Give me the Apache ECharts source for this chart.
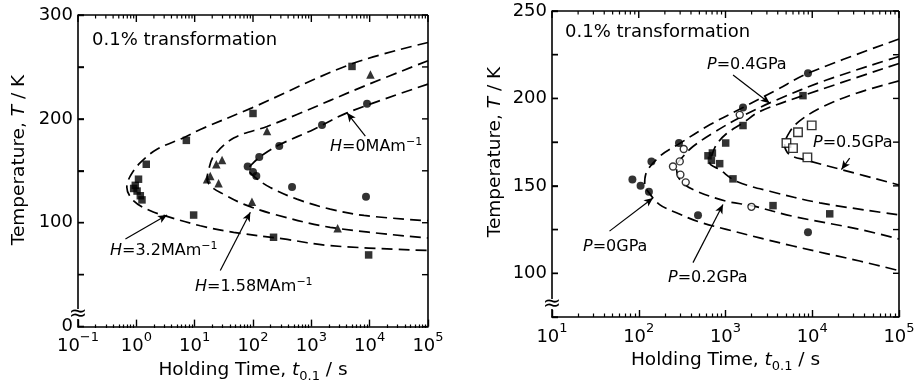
<!DOCTYPE html>
<html>
<head>
<meta charset="utf-8">
<script src="https://cdn.jsdelivr.net/npm/echarts@6/dist/echarts.min.js"></script>
<style>
  html, body { margin: 0; padding: 0; background: #fff; }
  #chart { width: 919px; height: 388px; }
</style>
</head>
<body>
<div id="chart"></div>
<script>
// ---- left panel: magnetic field H (t in s, T in K) ----
const leftDecades = [0.1, 1, 10, 100, 1000, 10000, 100000];
const leftYLabels = [0, 100, 200, 300];

const h32Points = [[4980, 250.5], [100, 205.2], [7.2, 179.3], [1.48, 156.3], [1.09, 141.9], [0.96, 136],
  [0.9, 133], [1.03, 130.5], [1.17, 126], [1.25, 122], [9.6, 107.4], [225, 86], [9600, 69]];
const h158Points = [[10300, 242.6], [174, 188.2], [29.5, 160.4], [23.5, 156.3], [18.5, 145.1], [16.3, 141.9],
  [25.7, 138.1], [96, 120.1], [2820, 94.6]];
const h0Points = [[9020, 214.5], [1525, 194], [282, 173.8], [128, 163.3], [81, 154.1], [100, 148.9],
  [114, 145.1], [467, 134.5], [8650, 124.9]];

const h32Curve = [[100000, 273.5], [4850, 252.8], [96, 210.6], [12.5, 189.8], [6.46, 181.9], [2.26, 170.7],
  [1.17, 157.9], [0.79, 145.1], [0.687, 134.2], [0.9, 121.1], [1.74, 111.5], [3.36, 106.1], [12.5, 97.1],
  [46.6, 90.8], [335, 84.4], [2110, 77.9], [100000, 73.3]];
const h158Curve = [[100000, 256], [7870, 231.3], [568, 204.2], [174, 192.7], [46.6, 181.5], [21.2, 164.2],
  [17.3, 150.5], [16.3, 141.9], [19.8, 134.2], [31.3, 127.5], [69, 117.9], [225, 108.3], [2110, 95.6],
  [100000, 85.3]];
const h0Curve = [[100000, 233.5], [4090, 205.8], [1094, 189.8], [294, 175.5], [152, 165.9], [102, 157.9],
  [84, 151.5], [110, 143.5], [198, 133.9], [568, 122.7], [2110, 113.1], [8000, 107], [100000, 101.9]];

// ---- right panel: pressure P ----
const rightDecades = [10, 100, 1000, 10000, 100000];
const rightYLabels = [100, 150, 200, 250];

const p0Points = [[84.5, 153.6], [105, 150.1], [131, 146.6], [140, 164], [291, 174.5], [1592, 194.8],
  [8930, 214.4], [482, 133.2], [8930, 123.5]];
const p02Points = [[330, 171.1], [297, 164], [248, 161.1], [302, 156.4], [348, 152], [1459, 190.6], [1990, 138]];
const p04Points = [[1005, 174.5], [628, 167.2], [706, 168.8], [688, 164.6], [857, 162.7], [1220, 154],
  [1592, 184.5], [7820, 201.6], [3530, 138.7], [15900, 134]];
const p05Points = [[5040, 174.5], [6000, 171.6], [6850, 180.7], [9860, 184.6], [8790, 166.3]];

const p0Curve = [[100000, 234], [8930, 214.4], [3860, 204.8], [1592, 194.8], [658, 184.9], [291, 174],
  [174, 166.8], [120, 156.4], [117, 150.7], [130, 146.3], [174, 139.3], [272, 134.6], [482, 129.6],
  [1023, 125.1], [6000, 115.6], [35200, 107], [100000, 101.5]];
const p02Curve = [[100000, 224], [14600, 210.5], [3860, 199.1], [1486, 189.3], [718, 180.2], [422, 172.5],
  [324, 166.8], [272, 161.1], [297, 153.6], [422, 147.9], [1023, 141.2], [1990, 138.7], [6000, 132.6],
  [35200, 125.1], [100000, 119.6]];
const p04Curve = [[100000, 220], [7820, 201.6], [2480, 192.5], [1592, 186], [1023, 179.8], [785, 173.5],
  [688, 166.8], [658, 163.1], [857, 159.3], [1337, 152.6], [3240, 146.9], [12200, 140.3], [100000, 133.4]];
const p05Curve = [[100000, 210], [32300, 203], [13300, 195.3], [7160, 187.2], [5500, 180.9], [4810, 173.5],
  [5500, 167.8], [8570, 164.7], [21700, 159.3], [100000, 150.5]];

const FONT = '"DejaVu Sans", "Liberation Sans", sans-serif';
const INK = '#000';
const TXT = 18;
const lineW = 1.6;

function minorTicks(decades) {
  const out = [];
  for (let i = 0; i < decades.length - 1; i++) {
    for (let k = 2; k <= 9; k++) out.push(decades[i] * k);
  }
  return out;
}

function decadeLabel(v) {
  const e = Math.round(Math.log10(v));
  return '{b|10}{s|' + (e < 0 ? '\u2212' + (-e) : e) + '}';
}

const tickRich = {
  b: { fontSize: TXT, fontFamily: FONT, color: INK, lineHeight: 24, verticalAlign: 'bottom' },
  s: { fontSize: 13, fontFamily: FONT, color: INK, lineHeight: 13, verticalAlign: 'top' }
};

const nameRich = {
  n: { fontSize: 18.5, fontFamily: FONT, color: INK, lineHeight: 26 },
  i: { fontSize: 18.5, fontFamily: FONT, color: INK, lineHeight: 26, fontStyle: 'italic' },
  sub: { fontSize: 13, fontFamily: FONT, color: INK, lineHeight: 13, verticalAlign: 'bottom' }
};

// bottom log axis of a panel: decade ticks, labels, title
function mainX(grid, decades, nameGap) {
  return {
    gridIndex: grid, type: 'log', logBase: 10,
    min: decades[0], max: decades[decades.length - 1],
    axisLine: { show: true, lineStyle: { color: INK, width: lineW } },
    axisTick: { show: true, inside: true, length: 7, customValues: decades, lineStyle: { color: INK, width: 1.4 } },
    axisLabel: { show: true, customValues: decades, formatter: decadeLabel, margin: 5, rich: tickRich },
    splitLine: { show: false },
    name: '{n|Holding Time, }{i|t}{sub|0.1}{n| / s}',
    nameLocation: 'middle', nameGap: nameGap,
    nameTextStyle: { rich: nameRich }
  };
}

// overlaid log axis carrying only the short 2..9 ticks
function minorX(grid, decades) {
  return {
    gridIndex: grid, type: 'log', logBase: 10,
    min: decades[0], max: decades[decades.length - 1],
    axisLine: { show: false },
    axisTick: { show: true, inside: true, length: 3.5, customValues: minorTicks(decades), lineStyle: { color: INK, width: 1.2 } },
    axisLabel: { show: false },
    splitLine: { show: false }
  };
}

function mainY(grid, min, max, step, labels) {
  return {
    gridIndex: grid, type: 'value', min: min, max: max, interval: step,
    axisLine: { show: true, lineStyle: { color: INK, width: lineW } },
    axisTick: { show: true, inside: true, length: 6, lineStyle: { color: INK, width: 1.4 } },
    axisLabel: { show: true, customValues: labels, color: INK, fontSize: TXT, fontFamily: FONT, margin: 5 },
    splitLine: { show: false }
  };
}

function hiddenY(grid, min, max) {
  return { gridIndex: grid, type: 'value', min: min, max: max, show: false };
}

// top and right edges of a panel with their inward ticks, placed through the panel's own scales
function frame(xi, yi, decades, yMin, yMax, step) {
  const xMin = decades[0], xMax = decades[decades.length - 1];
  const minors = minorTicks(decades);
  const yTicks = [];
  for (let y = yMin; y <= yMax; y += step) yTicks.push(y);
  const seg = (x1, y1, x2, y2, w) => ({
    type: 'line', shape: { x1: x1, y1: y1, x2: x2, y2: y2 }, style: { stroke: INK, lineWidth: w }
  });
  return {
    type: 'custom', xAxisIndex: xi, yAxisIndex: yi, silent: true, z: 5, clip: false,
    data: [[xMax, yMax]],
    renderItem: function (params, api) {
      const tl = api.coord([xMin, yMax]);
      const tr = api.coord([xMax, yMax]);
      const br = api.coord([xMax, yMin]);
      const kids = [seg(tl[0], tl[1], tr[0], tr[1], lineW), seg(tr[0], tr[1], br[0], br[1], lineW)];
      decades.forEach(v => { const p = api.coord([v, yMax]); kids.push(seg(p[0], p[1], p[0], p[1] + 7, 1.4)); });
      minors.forEach(v => { const p = api.coord([v, yMax]); kids.push(seg(p[0], p[1], p[0], p[1] + 3.5, 1.2)); });
      yTicks.forEach(y => {
        const r = api.coord([xMax, y]);
        const l = api.coord([xMin, y]);
        kids.push(seg(r[0] - 6, r[1], r[0], r[1], 1.4));
        kids.push(seg(l[0], l[1], l[0] + 6, l[1], 1.4));
      });
      return { type: 'group', children: kids };
    }
  };
}

function curve(data, xi, yi, arrows) {
  const s = {
    type: 'line', xAxisIndex: xi, yAxisIndex: yi, data: data,
    smooth: 0.35, symbol: 'none', silent: true, z: 2,
    lineStyle: { color: INK, width: 1.7, type: [11, 6] }
  };
  if (arrows) {
    s.markLine = {
      silent: true, symbol: ['none', 'arrow'], symbolSize: [6, 9],
      label: { show: false },
      lineStyle: { color: INK, width: 1.2, type: 'solid' },
      data: arrows.map(a => [{ coord: a[0] }, { coord: a[1] }])
    };
  }
  return s;
}

function points(data, xi, yi, symbol, size, open) {
  return {
    type: 'scatter', xAxisIndex: xi, yAxisIndex: yi, data: data,
    symbol: symbol, symbolSize: size, z: 3,
    itemStyle: open ? { color: '#fff', borderColor: INK, borderWidth: 1.4 } : { color: INK }
  };
}

// arrows, in data units: [from, to]
const leftArrows = [
  [[8430, 183.4], [4090, 205.8]],
  [[0.65, 84.4], [3.36, 107.4]],
  [[27.5, 54], [90, 110]]
];
const rightArrows = [
  [[1222, 213.4], [3236, 197.3]],
  [[27000, 165.9], [21700, 159.3]],
  [[46, 124.1], [146, 143.1]],
  [[422, 106.1], [935, 139.3]]
];

function label(x, y, text, size) {
  const fs = size || 16;
  return {
    type: 'text', x: x, y: y, z: 10,
    style: {
      text: text, fill: INK, font: fs + 'px ' + FONT, textVerticalAlign: 'middle',
      rich: {
        i: { fontSize: fs, fontFamily: FONT, fontStyle: 'italic', lineHeight: 20, fill: INK },
        n: { fontSize: fs, fontFamily: FONT, lineHeight: 20, fill: INK },
        s: { fontSize: 11, fontFamily: FONT, lineHeight: 11, verticalAlign: 'top', fill: INK }
      }
    }
  };
}

function axisBreak(x, y) {
  return [
    { type: 'rect', shape: { x: x - 3, y: y - 5, width: 6, height: 10 }, style: { fill: '#fff' }, z: 20 },
    { type: 'text', x: x, y: y, z: 21,
      style: { text: '\u2248', font: '22px ' + FONT, fill: INK, textAlign: 'center', textVerticalAlign: 'middle' } }
  ];
}

function yTitle(x, y) {
  return {
    type: 'text', x: x, y: y, rotation: Math.PI / 2, z: 10,
    style: {
      text: '{n|Temperature, }{i|T}{n| / K}', textAlign: 'center', textVerticalAlign: 'middle',
      rich: {
        n: { fontSize: 18.5, fontFamily: FONT, fill: INK },
        i: { fontSize: 18.5, fontFamily: FONT, fontStyle: 'italic', fill: INK }
      }
    }
  };
}

const box = (l, t, w, h) => ({ left: l, top: t, width: w, height: h, containLabel: false });

const chart = echarts.init(document.getElementById('chart'), null, { renderer: 'canvas' });

chart.setOption({
  animation: false,
  backgroundColor: '#fff',
  textStyle: { fontFamily: FONT, color: INK },
  grid: [
    box(78, 15, 350, 313),   // 0 left plot
    box(78, 15, 350, 313),   // 1 left minor ticks
    box(552, 11, 347, 306),  // 2 right plot
    box(552, 11, 347, 306)   // 3 right minor ticks
  ],
  xAxis: [
    mainX(0, leftDecades, 28),
    minorX(1, leftDecades),
    mainX(2, rightDecades, 29),
    minorX(3, rightDecades)
  ],
  yAxis: [
    mainY(0, 0, 300, 50, leftYLabels),
    hiddenY(1, 0, 300),
    mainY(2, 75, 250, 25, rightYLabels),
    hiddenY(3, 75, 250)
  ],
  series: [
    frame(0, 0, leftDecades, 0, 300, 50),
    curve(h32Curve, 0, 0, leftArrows),
    curve(h158Curve, 0, 0),
    curve(h0Curve, 0, 0),
    points(h32Points, 0, 0, 'rect', 7.5),
    points(h158Points, 0, 0, 'triangle', 8.5),
    points(h0Points, 0, 0, 'circle', 8),

    frame(2, 2, rightDecades, 75, 250, 25),
    curve(p0Curve, 2, 2, rightArrows),
    curve(p02Curve, 2, 2),
    curve(p04Curve, 2, 2),
    curve(p05Curve, 2, 2),
    points(p0Points, 2, 2, 'circle', 8),
    points(p02Points, 2, 2, 'circle', 7, true),
    points(p04Points, 2, 2, 'rect', 7.5),
    points(p05Points, 2, 2, 'rect', 8.5, true)
  ],
  graphic: [
    yTitle(19, 160),
    yTitle(495, 152),
    label(92, 40, '0.1% transformation', 18),
    label(565, 32, '0.1% transformation', 18),
    label(330, 147, '{i|H}{n|=0MAm}{s|\u22121}'),
    label(110, 251, '{i|H}{n|=3.2MAm}{s|\u22121}'),
    label(195, 287, '{i|H}{n|=1.58MAm}{s|\u22121}'),
    label(707, 65, '{i|P}{n|=0.4GPa}'),
    label(813, 143, '{i|P}{n|=0.5GPa}'),
    label(583, 247, '{i|P}{n|=0GPa}'),
    label(668, 278, '{i|P}{n|=0.2GPa}')
  ].concat(axisBreak(78, 314), axisBreak(552, 304))
});
</script>
</body>
</html>
